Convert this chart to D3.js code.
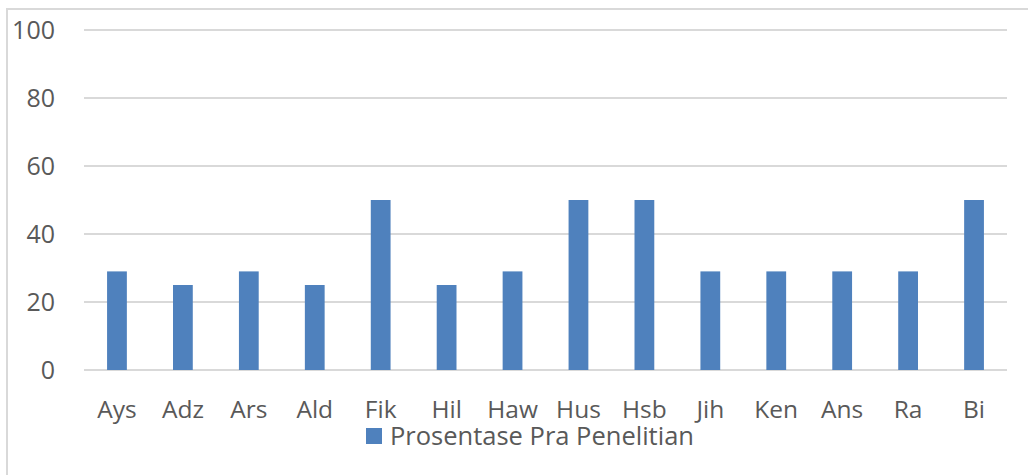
<!DOCTYPE html>
<html>
<head>
<meta charset="utf-8">
<script src="https://d3js.org/d3.v7.min.js"></script>
<style>
  body { margin: 0; background: #fff; }
  text { font-family: "Open Sans", sans-serif; fill: #595959; }
</style>
</head>
<body>
<script>
// data
var names = ["Ays", "Adz", "Ars", "Ald", "Fik", "Hil", "Haw", "Hus", "Hsb", "Jih", "Ken", "Ans", "Ra", "Bi"];
var values = [29, 25, 29, 25, 50, 25, 29, 50, 50, 29, 29, 29, 29, 50];
var yTicks = [0, 20, 40, 60, 80, 100];
var seriesName = "Prosentase Pra Penelitian";

var width = 1028, height = 475;
var plotLeft = 84, plotRight = 1007, plotTop = 30, plotBottom = 370;

var svg = d3.select("body").append("svg")
    .attr("width", width)
    .attr("height", height);

// chart frame (runs off the right and bottom of the picture)
svg.append("rect")
    .attr("x", 7).attr("y", 9)
    .attr("width", 1040).attr("height", 490)
    .attr("fill", "none")
    .attr("stroke", "#d9d9d9")
    .attr("stroke-width", 2);

var x = d3.scaleBand()
    .domain(names)
    .range([plotLeft, plotRight])
    .paddingInner(0.7)
    .paddingOuter(0.35);

var y = d3.scaleLinear()
    .domain([0, 100])
    .range([plotBottom, plotTop]);

// gridlines
svg.selectAll(".grid")
    .data(yTicks)
    .enter()
    .append("line")
    .attr("x1", plotLeft).attr("x2", plotRight)
    .attr("y1", function(d) { return y(d); })
    .attr("y2", function(d) { return y(d); })
    .attr("stroke", "#d9d9d9")
    .attr("stroke-width", 2);

// y axis labels
var yAxis = d3.axisLeft(y).tickValues(yTicks).tickSize(0).tickPadding(0);
var gy = svg.append("g")
    .attr("transform", "translate(55,0)")
    .call(yAxis);
gy.select(".domain").remove();
gy.selectAll("text")
    .style("font-size", "25px")
    .attr("fill", "#595959")
    .attr("font-family", "Open Sans");

// bars
svg.selectAll(".bar")
    .data(values)
    .enter()
    .append("rect")
    .attr("x", function(d, i) { return x(names[i]); })
    .attr("y", function(d) { return y(d); })
    .attr("width", x.bandwidth())
    .attr("height", function(d) { return y(0) - y(d); })
    .attr("fill", "#4f81bd");

// x axis labels
var xAxis = d3.axisBottom(x).tickSize(0).tickPadding(0);
var gx = svg.append("g")
    .attr("transform", "translate(0," + plotBottom + ")")
    .call(xAxis);
gx.select(".domain").remove();
gx.selectAll("text")
    .attr("dy", null)
    .attr("y", 48)
    .style("font-size", "24.5px")
    .attr("fill", "#595959")
    .attr("font-family", "Open Sans");

// legend
var legend = svg.append("g").attr("transform", "translate(366,428)");
legend.append("rect")
    .attr("width", 16).attr("height", 16)
    .attr("fill", "#4f81bd");
legend.append("text")
    .attr("x", 24).attr("y", 17)
    .style("font-size", "25.5px")
    .text(seriesName);
</script>
</body>
</html>
